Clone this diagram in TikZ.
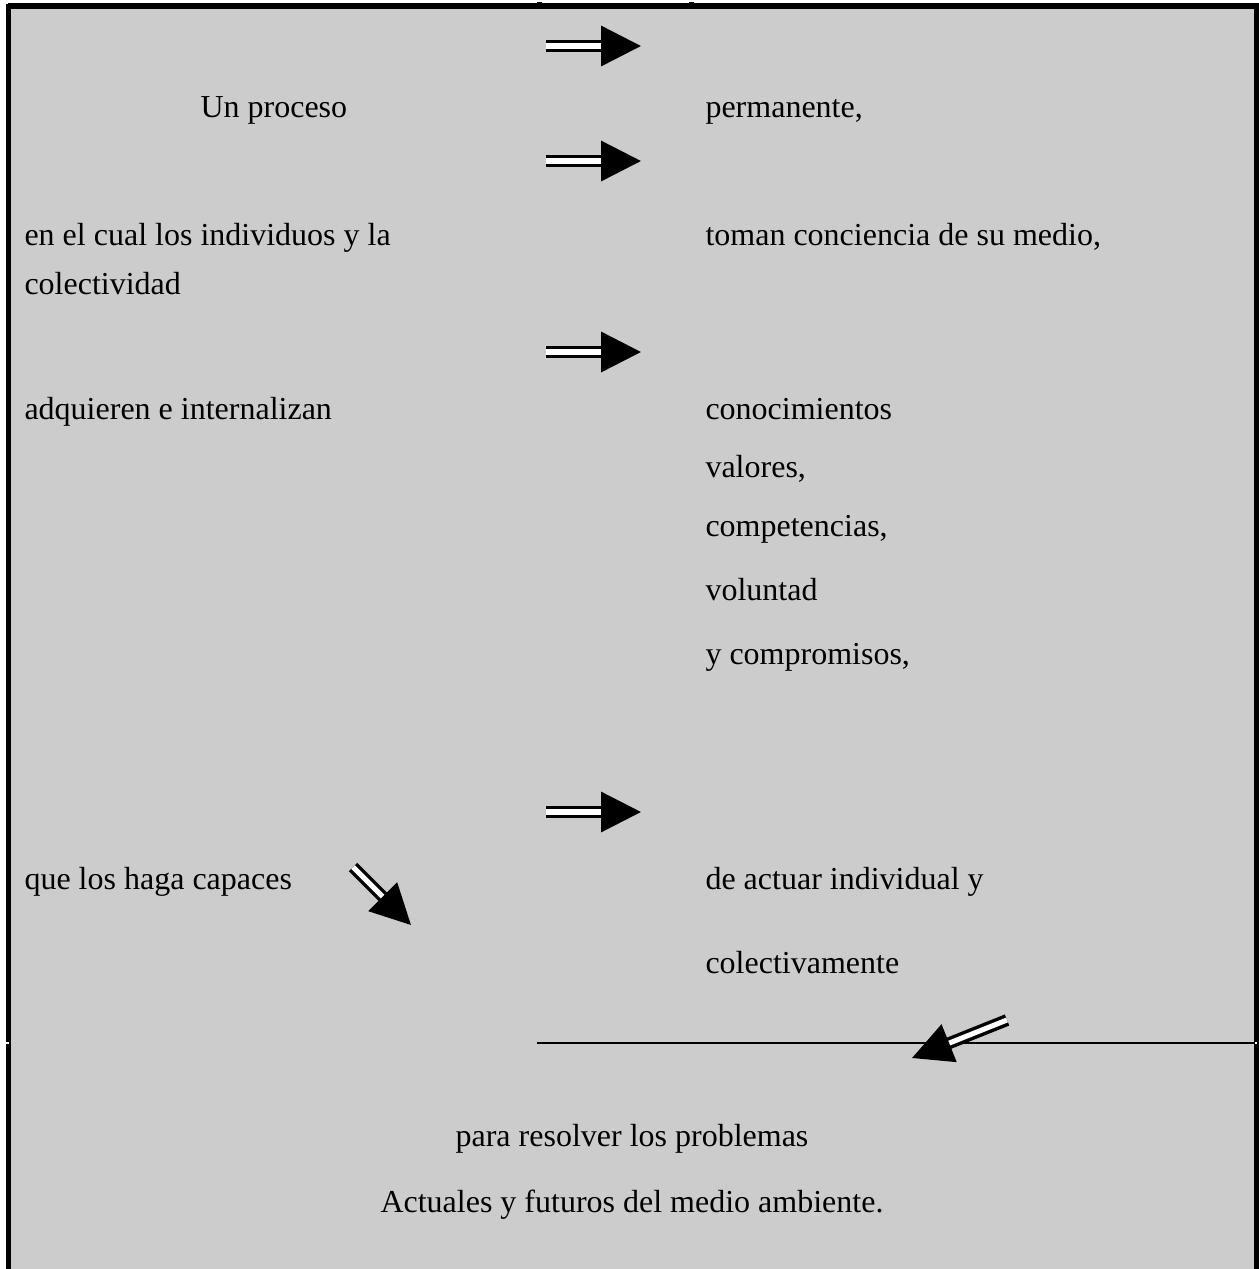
\documentclass[tikz,border=0pt]{standalone}
\usepackage{fontspec}
\setmainfont{Liberation Serif}
\usetikzlibrary{arrows.meta}

\definecolor{panelgray}{HTML}{CCCCCC}

\tikzset{
  txt/.style = {anchor=base west, inner sep=0pt, font=\fontsize{12}{14}\selectfont},
  ctxt/.style = {anchor=base, inner sep=0pt, font=\fontsize{12}{14}\selectfont},
  dblarrow/.style = {double, double distance=1.9pt, line width=1.3pt,
    -{Triangle[length=15pt, width=15pt]}},
  frame/.style = {line width=1.9pt}
}

\begin{document}
\begin{tikzpicture}[x=0.375pt, y=-0.375pt]
\useasboundingbox (0,0) rectangle (1259,1269);
% background panel and frame
\fill[panelgray] (11,8) rectangle (1254,1269);
\draw[frame] (8.5,4) -- (8.5,1269);
\draw[frame] (8,6) -- (1259,6);
\draw[frame] (1256.5,4) -- (1256.5,1269);
\fill[white] (6,1042) rectangle (9,1044);
\fill[white] (1255,1042) rectangle (1257,1044);
\fill (537,1.5) rectangle (542,5);
\fill (689,1.5) rectangle (694,5);
\draw[line width=1.1pt] (537,1043) -- (1254,1043);

% left column
\node[txt] (proc) at (200,117) {Un proceso};
\node[txt] (indiv) at (24,245) {en el cual los individuos y la};
\node[txt] (colec) at (24,294) {colectividad};
\node[txt] (adq) at (24,419) {adquieren e internalizan};
\node[txt] (capaz) at (24,889) {que los haga capaces};

% right column
\node[txt] (perm) at (705,117) {permanente,};
\node[txt] (toman) at (705,245) {toman conciencia de su medio,};
\node[txt] (conoc) at (705,419) {conocimientos};
\node[txt] (valor) at (705,477) {valores,};
\node[txt] (compe) at (705,536) {competencias,};
\node[txt] (volun) at (705,600) {voluntad};
\node[txt] (compr) at (705,664) {y compromisos,};
\node[txt] (actua) at (705,889) {de actuar individual y};
\node[txt] (colva) at (705,973) {colectivamente};

% bottom
\node[ctxt] (resol) at (632,1146) {para resolver los problemas};
\node[ctxt] (futur) at (632,1212) {Actuales y futuros del medio ambiente.};

% arrows
\coordinate (a1s) at (546,46);  \coordinate (a1e) at (641,46);
\coordinate (a2s) at (546,161); \coordinate (a2e) at (641,161);
\coordinate (a3s) at (546,352); \coordinate (a3e) at (641,352);
\coordinate (a4s) at (546,812); \coordinate (a4e) at (641,812);
\coordinate (d1s) at (353,867); \coordinate (d1e) at (411,925);
\coordinate (d2s) at (1007,1020); \coordinate (d2e) at (912,1058);
\foreach \s/\e in {a1s/a1e, a2s/a2e, a3s/a3e, a4s/a4e, d1s/d1e, d2s/d2e}
  \draw[dblarrow] (\s) -- (\e);
\end{tikzpicture}
\end{document}
